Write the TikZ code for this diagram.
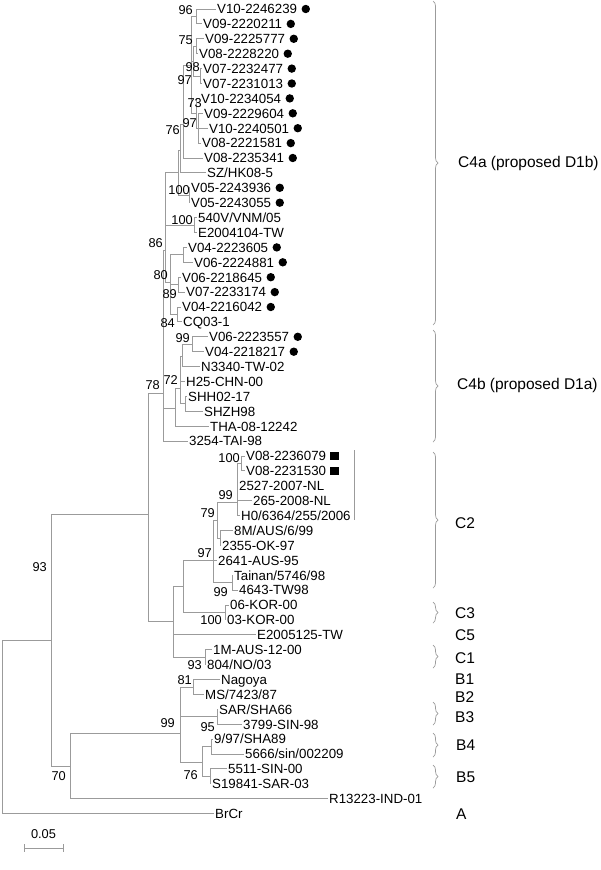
\documentclass[tikz,border=0pt]{standalone}
\usepackage{fontspec}
\setmainfont{Liberation Sans}
\usetikzlibrary{decorations.pathreplacing}
\definecolor{linegray}{RGB}{155,155,155}
\begin{document}
\begin{tikzpicture}[x=1pt,y=-1pt,
  leaf/.style={anchor=west,inner sep=1pt,text height=9.6pt,text depth=0pt,font=\fontsize{13.3}{14}\selectfont},
  bs/.style={anchor=east,inner sep=0pt,font=\fontsize{12.8}{14}\selectfont},
  grp/.style={anchor=west,inner sep=0pt,font=\fontsize{15.5}{17}\selectfont},
  br/.style={draw=linegray,line width=0.9pt},
  brace/.style={draw=linegray,line width=0.7pt,decorate,decoration={brace,amplitude=5pt}}]
\useasboundingbox (0,0) rectangle (600,870);
% leaves
\node[leaf] (L1) at (216,9) {V10-2246239};
\node[leaf] (L2) at (202,23.9) {V09-2220211};
\node[leaf] (L3) at (204,38.8) {V09-2225777};
\node[leaf] (L4) at (198,53.7) {V08-2228220};
\node[leaf] (L5) at (202,68.6) {V07-2232477};
\node[leaf] (L6) at (202,83.5) {V07-2231013};
\node[leaf] (L7) at (200,98.4) {V10-2234054};
\node[leaf] (L8) at (203,113.3) {V09-2229604};
\node[leaf] (L9) at (208,128.2) {V10-2240501};
\node[leaf] (L10) at (201,143.1) {V08-2221581};
\node[leaf] (L11) at (203,158) {V08-2235341};
\node[leaf] (L12) at (206,172.9) {SZ/HK08-5};
\node[leaf] (L13) at (190,187.8) {V05-2243936};
\node[leaf] (L14) at (190,202.7) {V05-2243055};
\node[leaf] (L15) at (197,217.6) {540V/VNM/05};
\node[leaf] (L16) at (197,232.5) {E2004104-TW};
\node[leaf] (L17) at (187,247.4) {V04-2223605};
\node[leaf] (L18) at (193,262.3) {V06-2224881};
\node[leaf] (L19) at (181,277.2) {V06-2218645};
\node[leaf] (L20) at (185,292.1) {V07-2233174};
\node[leaf] (L21) at (181,307) {V04-2216042};
\node[leaf] (L22) at (182,321.9) {CQ03-1};
\node[leaf] (L23) at (208,336.8) {V06-2223557};
\node[leaf] (L24) at (204,351.7) {V04-2218217};
\node[leaf] (L25) at (200,366.6) {N3340-TW-02};
\node[leaf] (L26) at (185,381.5) {H25-CHN-00};
\node[leaf] (L27) at (187,396.4) {SHH02-17};
\node[leaf] (L28) at (203,411.3) {SHZH98};
\node[leaf] (L29) at (209,426.2) {THA-08-12242};
\node[leaf] (L30) at (188,441.1) {3254-TAI-98};
\node[leaf] (L31) at (245,456) {V08-2236079};
\node[leaf] (L32) at (245,470.9) {V08-2231530};
\node[leaf] (L33) at (238,485.8) {2527-2007-NL};
\node[leaf] (L34) at (252,500.7) {265-2008-NL};
\node[leaf] (L35) at (240,515.6) {H0/6364/255/2006};
\node[leaf] (L36) at (233,530.5) {8M/AUS/6/99};
\node[leaf] (L37) at (221,545.4) {2355-OK-97};
\node[leaf] (L38) at (217,560.3) {2641-AUS-95};
\node[leaf] (L39) at (233,575.2) {Tainan/5746/98};
\node[leaf] (L40) at (238,590.1) {4643-TW98};
\node[leaf] (L41) at (229,605) {06-KOR-00};
\node[leaf] (L42) at (226,619.9) {03-KOR-00};
\node[leaf] (L43) at (256,634.8) {E2005125-TW};
\node[leaf] (L44) at (212,649.7) {1M-AUS-12-00};
\node[leaf] (L45) at (206,664.6) {804/NO/03};
\node[leaf] (L46) at (220,679.5) {Nagoya};
\node[leaf] (L47) at (204,694.4) {MS/7423/87};
\node[leaf] (L48) at (218,709.3) {SAR/SHA66};
\node[leaf] (L49) at (242,724.2) {3799-SIN-98};
\node[leaf] (L50) at (213,739.1) {9/97/SHA89};
\node[leaf] (L51) at (244,754) {5666/sin/002209};
\node[leaf] (L52) at (227,768.9) {5511-SIN-00};
\node[leaf] (L53) at (211,783.8) {S19841-SAR-03};
\node[leaf] (L54) at (328,798.7) {R13223-IND-01};
\node[leaf] (L55) at (214,813.6) {BrCr};
% internal nodes
\coordinate (n96) at (196,16.5);
\coordinate (n75) at (196,46.3);
\coordinate (n98) at (200,76);
\coordinate (n97a) at (193,61);
\coordinate (n97b) at (198,128.2);
\coordinate (n73) at (196,113);
\coordinate (nA) at (191,65);
\coordinate (n76) at (183,124);
\coordinate (nC) at (180,150);
\coordinate (n100a) at (189,195.3);
\coordinate (nE) at (178,172);
\coordinate (n100b) at (194,225);
\coordinate (nD) at (183,254.9);
\coordinate (n89) at (178,284.7);
\coordinate (n84) at (177,314.5);
\coordinate (n80) at (170,282);
\coordinate (n86) at (165,250);
\coordinate (n99b) at (192,344.3);
\coordinate (nN) at (182,356);
\coordinate (nS) at (185,403.9);
\coordinate (n72) at (180,388);
\coordinate (nT) at (175,408);
\coordinate (n78) at (163,393);
\coordinate (n100c) at (241,463.5);
\coordinate (n99c) at (237,502);
\coordinate (nM) at (220,538);
\coordinate (n79) at (217,520);
\coordinate (n99d) at (232,582.7);
\coordinate (n97) at (213,560);
\coordinate (nKOR) at (225,612.5);
\coordinate (n183) at (183,586);
\coordinate (nC1) at (205,657.2);
\coordinate (n173) at (173,621);
\coordinate (n148) at (148,514);
\coordinate (n81) at (193,687);
\coordinate (n95) at (217,716.8);
\coordinate (nB4) at (211,746.6);
\coordinate (nB5) at (210,776.4);
\coordinate (n76b) at (202,762);
\coordinate (nB99) at (180,733);
\coordinate (n70) at (70,766);
\coordinate (nCB) at (51,640);
\coordinate (root) at (2,640);
% branches
\foreach \p/\c in {n96/L1.west,n96/L2.west,n75/L3.west,n75/L4.west,n98/L5.west,n98/L6.west,
  n97a/n75,n97a/n98,n73/L7.west,n97b/L8.west,n97b/L9.west,n97b/L10.west,n73/n97b,
  nA/n96,nA/n97a,nA/n73,n76/nA,n76/L11.west,nC/n76,nC/L12.west,n100a/L13.west,n100a/L14.west,
  nE/nC,nE/n100a,n100b/L15.west,n100b/L16.west,nD/L17.west,nD/L18.west,n89/L19.west,n89/L20.west,
  n84/L21.west,n84/L22.west,n80/nD,n80/n89,n80/n84,n86/nE,n86/n100b,n86/n80,
  n99b/L23.west,n99b/L24.west,nN/n99b,nN/L25.west,nS/L27.west,nS/L28.west,n72/nN,n72/L26.west,n72/nS,
  nT/n72,nT/L29.west,n78/n86,n78/nT,n78/L30.west,
  n100c/L31.west,n100c/L32.west,n99c/n100c,n99c/L33.west,n99c/L34.west,n99c/L35.west,
  nM/L36.west,nM/L37.west,n79/n99c,n79/nM,n99d/L39.west,n99d/L40.west,n97/n79,n97/L38.west,n97/n99d,
  nKOR/L41.west,nKOR/L42.west,n183/n97,n183/nKOR,nC1/L44.west,nC1/L45.west,
  n173/n183,n173/L43.west,n173/nC1,n148/n78,n148/n173,
  n81/L46.west,n81/L47.west,n95/L48.west,n95/L49.west,nB4/L50.west,nB4/L51.west,
  nB5/L52.west,nB5/L53.west,n76b/nB4,n76b/nB5,nB99/n81,nB99/n95,nB99/n76b,
  n70/nB99,n70/L54.west,nCB/n148,nCB/n70,root/nCB,root/L55.west}
  \draw[br] (\p) |- (\c);
% markers
\foreach \l in {L1,L2,L3,L4,L5,L6,L7,L8,L9,L10,L11,L13,L14,L17,L18,L19,L20,L21,L23,L24}
  \fill ([xshift=7.5pt]\l.east) circle (4.2pt);
\foreach \l in {L31,L32}
  \fill ([xshift=7.5pt]\l.east) ++(-4.3pt,-4.3pt) rectangle ++(8.6pt,8.6pt);
% bootstrap values
\node[bs] (b1) at (193,10) {96};
\node[bs] (b2) at (193,40) {75};
\node[bs] (b3) at (200,67) {98};
\node[bs] (b4) at (192,80) {97};
\node[bs] (b5) at (202,103) {73};
\node[bs] (b6) at (197,123) {97};
\node[bs] (b7) at (180,130) {76};
\node[bs] (b8) at (190,190) {100};
\node[bs] (b9) at (193,220) {100};
\node[bs] (b10) at (163,243) {86};
\node[bs] (b11) at (168,275) {80};
\node[bs] (b12) at (177,294) {89};
\node[bs] (b13) at (175,323) {84};
\node[bs] (b14) at (190,338) {99};
\node[bs] (b15) at (178,380) {72};
\node[bs] (b16) at (160,385) {78};
\node[bs] (b17) at (240,458) {100};
\node[bs] (b18) at (233,495) {99};
\node[bs] (b19) at (215,513) {79};
\node[bs] (b20) at (212,553) {97};
\node[bs] (b21) at (228,592) {99};
\node[bs] (b22) at (222,620) {100};
\node[bs] (b23) at (202,665) {93};
\node[bs] (b24) at (192,680) {81};
\node[bs] (b25) at (175,723) {99};
\node[bs] (b26) at (215,727) {95};
\node[bs] (b27) at (198,775) {76};
\node[bs] (b28) at (66,776) {70};
\node[bs] (b29) at (47,567) {93};
% side bar
\coordinate (sb1) at (354,450);
\coordinate (sb2) at (354,520);
\draw[br] (sb1) -- (sb2);
% braces
\foreach \a/\b in {1/325,330/442,452/588,602/623,645/668,702/725,733/757,765/788}
  \draw[brace] (433,\a) -- (433,\b);
% group labels
\node[grp] (gC4a) at (458,163) {C4a (proposed D1b)};
\node[grp] (gC4b) at (457,385) {C4b (proposed D1a)};
\node[grp] (gC2) at (455,523) {C2};
\node[grp] (gC3) at (455,613) {C3};
\node[grp] (gC5) at (455,635) {C5};
\node[grp] (gC1) at (455,658) {C1};
\node[grp] (gB1) at (455,679) {B1};
\node[grp] (gB2) at (455,697) {B2};
\node[grp] (gB3) at (455,717) {B3};
\node[grp] (gB4) at (456,745) {B4};
\node[grp] (gB5) at (456,777) {B5};
\node[grp] (gA) at (456,814) {A};
% scale bar
\coordinate (s1) at (24,848);
\coordinate (s2) at (63,848);
\draw[br] (s1) -- (s2);
\draw[br] ([yshift=4pt]s1) -- ([yshift=-4pt]s1);
\draw[br] ([yshift=4pt]s2) -- ([yshift=-4pt]s2);
\node[bs,anchor=south] (sl) at (43.5,839) {0.05};
\end{tikzpicture}
\end{document}
